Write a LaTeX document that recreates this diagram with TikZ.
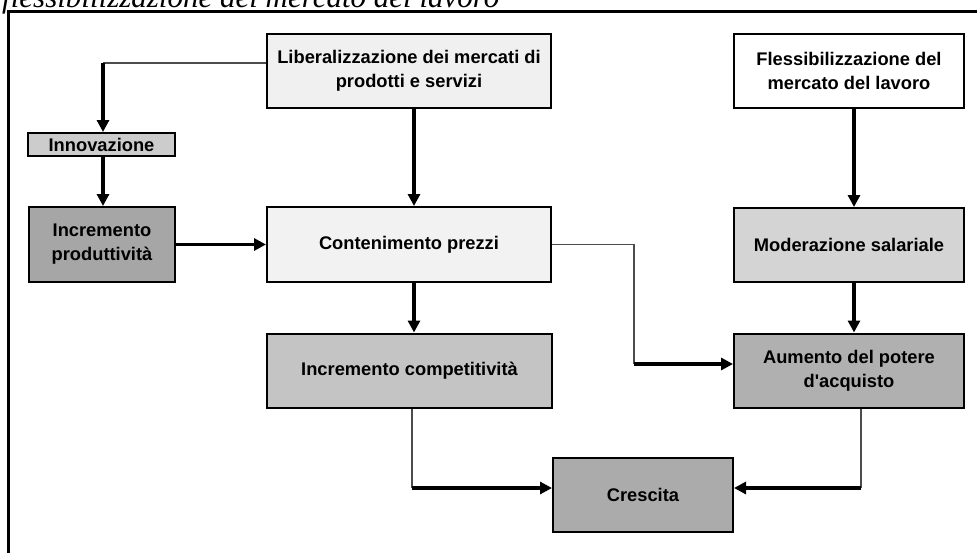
\documentclass[tikz,border=0pt]{standalone}
\usepackage{fontspec}
\setmainfont{Liberation Sans}
\newfontfamily\capfont{Liberation Serif}
\usepackage{xcolor}
\usepackage{tikz}
\usetikzlibrary{calc, arrows.meta, positioning}

\begin{document}
\begin{tikzpicture}[
                  x = 1pt, y = -1pt,
                  font     = \fontsize{18.3}{24}\selectfont\bfseries,
                  box/.style  = {draw, line width=2pt, align=center, inner sep=0pt,
                                 minimum width=284pt, minimum height=74pt},
                  side/.style = {box, minimum width=230pt},
                  fw/.style   = {-{Triangle[length=12pt, width=12pt]}, line width=3.5pt},
                  ln/.style   = {line width=1.3pt, black!70}
            ]
            \useasboundingbox (0,0) rectangle (977,552);
            \clip (0,0) rectangle (977,552);

            % didascalia tagliata in alto e cornice
            \node[anchor=base west, inner sep=0pt, font=\capfont\itshape\fontsize{31}{31}\selectfont]
                  (cap) at (2,7) {flessibilizzazione del mercato del lavoro};
            \draw[line width=3pt] (8.5,560) -- (8.5,11.5) -- (990,11.5);

            % riquadri
            \node[box, fill=black!6] (lib) at (409,70.5) {Liberalizzazione dei mercati di\\prodotti e servizi};
            \node[side, fill=white] (fless) at (849,70.5) {Flessibilizzazione del\\mercato del lavoro};
            \node[box, fill=black!20, minimum width=147pt, minimum height=23pt] (innov) at (101.5,144.5) {Innovazione};
            \node[box, fill=black!35, minimum width=146pt, minimum height=75pt] (incprod) at (102,244.5) {Incremento\\produttività};
            \node[box, fill=black!5, minimum height=75pt] (cont) at (409,244.5) {Contenimento prezzi};
            \node[side, fill=black!17] (moder) at (849,245) {Moderazione salariale};
            \node[box, fill=black!23, minimum width=285pt] (compet) at (409.5,370.5) {Incremento competitività};
            \node[side, fill=black!31] (aum) at (849,370.5) {Aumento del potere\\d\textquotesingle acquisto};
            \node[box, fill=black!33, minimum width=180pt] (cresc) at (643,494.5) {Crescita};

            % punti di piega dei connettori
            \coordinate (kinn) at (103,63);
            \coordinate (kmid) at (414,0);
            \coordinate (kdx)  at (854,0);
            \coordinate (kaum) at (634,364);
            \coordinate (kcl)  at (412,488);
            \coordinate (kcr)  at (861,488);

            % colonna sinistra
            \draw[ln] (lib.west |- kinn) -- (kinn);
            \draw[fw] (kinn) -- (innov.north -| kinn);
            \draw[fw] (innov.south -| kinn) -- (incprod.north -| kinn);
            \draw[fw] (incprod.east) -- (cont.west |- incprod.east);

            % colonna centrale
            \draw[fw] (lib.south -| kmid) -- (cont.north -| kmid);
            \draw[fw] (cont.south -| kmid) -- (compet.north -| kmid);
            \draw[ln] (cont.east) -- (cont.east -| kaum) -- (kaum);
            \draw[fw] (kaum) -- (aum.west |- kaum);

            % colonna destra
            \draw[fw] (fless.south -| kdx) -- (moder.north -| kdx);
            \draw[fw] (moder.south -| kdx) -- (aum.north -| kdx);

            % verso la crescita
            \draw[ln] (compet.south -| kcl) -- (kcl);
            \draw[fw] (kcl) -- (cresc.west |- kcl);
            \draw[ln] (aum.south -| kcr) -- (kcr);
            \draw[fw] (kcr) -- (cresc.east |- kcr);
\end{tikzpicture}
\end{document}
